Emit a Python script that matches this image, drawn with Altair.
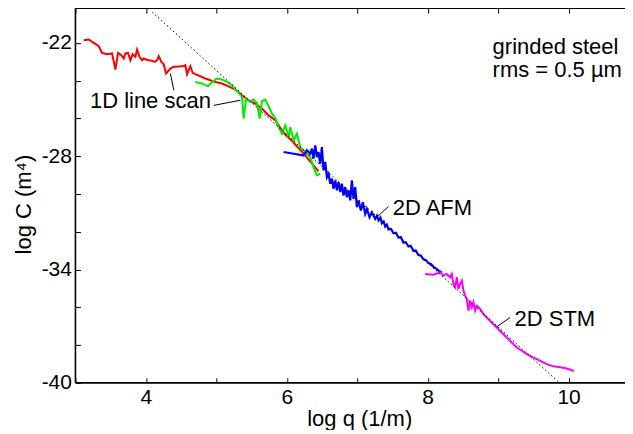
import altair as alt
import pandas as pd

# ---------------- data ----------------
red_x = [3.118, 3.189, 3.26, 3.331, 3.378, 3.449, 3.52, 3.567, 3.605, 3.652, 3.686, 3.709,
         3.747, 3.78, 3.813, 3.851, 3.875, 3.908, 3.946, 3.969, 4.002, 4.04, 4.087, 4.125,
         4.158, 4.182, 4.22, 4.253, 4.286, 4.348, 4.395, 4.442, 4.489, 4.537, 4.56, 4.584,
         4.631, 4.664, 4.702, 4.773, 4.844, 4.915, 4.986, 5.08, 5.175, 5.27, 5.364, 5.459,
         5.553, 5.648, 5.742, 5.837, 5.908, 5.95, 6.05, 6.15, 6.25, 6.35, 6.45]
red_y = [-21.86, -21.82, -22.0, -22.18, -22.53, -22.60, -22.56, -23.41, -22.53, -22.65, -22.83, -22.56,
         -22.53, -22.92, -22.60, -22.74, -22.35, -22.74, -22.92, -22.83, -22.88, -22.92, -22.95, -23.01,
         -22.92, -22.71, -23.01, -23.13, -23.62, -23.36, -23.27, -23.27, -23.24, -23.24, -23.18, -23.66,
         -23.24, -23.59, -23.66, -23.77, -23.89, -23.98, -24.07, -24.15, -24.30, -24.47, -24.77, -25.04,
         -25.21, -25.48, -25.84, -26.10, -26.5, -26.75, -27.1, -27.5, -27.9, -28.35, -28.8]

green_x = [4.702, 4.797, 4.882, 4.939, 5.009, 5.08, 5.151, 5.222, 5.27, 5.317, 5.364, 5.388,
           5.421, 5.482, 5.53, 5.577, 5.615, 5.648, 5.695, 5.742, 5.79, 5.84, 5.884, 5.931,
           5.979, 6.026, 6.05, 6.097, 6.144, 6.191, 6.238, 6.286, 6.333, 6.38, 6.428, 6.475]
green_y = [-24.07, -24.15, -24.30, -24.07, -23.89, -23.94, -24.07, -24.24, -24.47, -24.65, -24.86, -26.01,
           -24.95, -25.13, -25.0, -25.18, -26.01, -25.08, -25.0, -25.36, -25.75, -26.0, -26.46, -26.81,
           -26.37, -26.99, -26.46, -27.16, -26.81, -27.52, -27.69, -27.87, -28.05, -28.58, -29.02, -28.93]

blue_x = [5.955, 6.097, 6.238, 6.286, 6.333, 6.357, 6.38, 6.404, 6.428, 6.451, 6.475, 6.498,
          6.522, 6.546, 6.57, 6.593, 6.617, 6.641, 6.664, 6.688, 6.712, 6.735, 6.759, 6.782,
          6.806, 6.83, 6.853, 6.877, 6.901, 6.924, 6.948, 6.972, 6.995, 7.019, 7.052, 7.08,
          7.113, 7.137, 7.175, 7.208, 7.255, 7.28, 7.303, 7.33, 7.35, 7.375, 7.397, 7.42,
          7.444, 7.48, 7.515, 7.55, 7.586, 7.62, 7.657, 7.69, 7.728, 7.76, 7.799, 7.83,
          7.87, 7.9, 7.941, 7.975, 8.012, 8.05, 8.083, 8.12, 8.154, 8.201]
blue_y = [-27.78, -27.87, -27.96, -27.69, -27.87, -27.60, -28.13, -27.43, -28.05, -27.78, -28.40, -27.52,
          -28.75, -28.31, -29.11, -28.93, -29.46, -29.19, -29.73, -29.28, -29.81, -29.37, -29.90, -29.46,
          -30.08, -29.64, -30.17, -29.81, -30.34, -29.28, -30.26, -29.64, -30.70, -30.34, -30.88, -30.43,
          -31.05, -30.79, -31.23, -30.97, -31.32, -31.15, -31.40, -31.25, -31.55, -31.45, -31.72, -31.62,
          -31.88, -31.85, -32.08, -32.05, -32.32, -32.28, -32.58, -32.55, -32.78, -32.74, -33.02, -32.98,
          -33.24, -33.25, -33.46, -33.50, -33.66, -33.72, -33.86, -33.95, -34.06, -34.15]

magenta_x = [7.965, 8.083, 8.177, 8.224, 8.27, 8.319, 8.343, 8.366, 8.39, 8.414, 8.437, 8.461,
             8.485, 8.508, 8.532, 8.556, 8.579, 8.603, 8.627, 8.65, 8.674, 8.698, 8.745, 8.792,
             8.839, 8.91, 8.981, 9.052, 9.123, 9.194, 9.265, 9.336, 9.407, 9.478, 9.549, 9.62,
             9.69, 9.761, 9.832, 9.903, 9.974, 10.045, 10.078]
magenta_y = [-34.24, -34.27, -34.15, -34.32, -34.24, -34.41, -34.24, -34.77, -34.94, -34.41, -35.03, -34.77,
             -34.59, -35.12, -35.38, -35.56, -36.18, -35.65, -36.0, -35.74, -36.18, -35.92, -36.09, -36.36,
             -36.54, -36.80, -37.07, -37.33, -37.60, -37.86, -38.13, -38.30, -38.48, -38.62, -38.74, -38.87,
             -39.01, -39.10, -39.15, -39.19, -39.24, -39.33, -39.36]

fit_x = [4.09, 9.87]
fit_y = [-20.37, -40.0]

labels_text = ["1D line scan", "2D AFM", "2D STM", "grinded steel", "rms = 0.5 \u00b5m"]
labels_x = [3.206, 7.504, 9.234, 8.922, 8.922]
labels_y = [-25.08, -30.74, -36.61, -22.23, -23.44]

leader_x = [4.348, 4.962, 7.444, 9.17]
leader_y = [-23.62, -25.31, -30.66, -36.54]
leader_x2 = [4.397, 5.34, 7.27, 8.981]
leader_y2 = [-24.51, -25.04, -31.26, -37.03]

x_major = [4, 6, 8, 10]
x_minor = [3, 4, 5, 6, 7, 8, 9, 10]
y_major = [-40, -34, -28, -22]
y_minor = [-40, -38, -36, -34, -32, -30, -28, -26, -24, -22]

# ---------------- chart ----------------
FONT = "Liberation Sans"
W, H = 550, 375
X0, X1 = 3, 3 + W / 70.5
Y0, Y1 = -40, -20.164
xscale = alt.Scale(domain=[X0, X1], nice=False, zero=False)
yscale = alt.Scale(domain=[Y0, Y1], nice=False, zero=False)

red_df = pd.DataFrame({"x": red_x, "y": red_y})
green_df = pd.DataFrame({"x": green_x, "y": green_y})
blue_df = pd.DataFrame({"x": blue_x, "y": blue_y})
mag_df = pd.DataFrame({"x": magenta_x, "y": magenta_y})
fit_df = pd.DataFrame({"x": fit_x, "y": fit_y})
lab_df = pd.DataFrame({"t": labels_text, "x": labels_x, "y": labels_y})
lead_df = pd.DataFrame({"x": leader_x, "y": leader_y, "x2": leader_x2, "y2": leader_y2})
# frame: left, bottom and top edges of the axes box (from the scale domains)
frame_df = pd.DataFrame({
    "x": [X0, X0, X0], "x2": [X0, X1, X1],
    "y": [Y0, Y0, Y1], "y2": [Y1, Y0, Y1],
})

# main axes with labels (bottom and left)
red = alt.Chart(red_df).mark_line(color="#ff0000", strokeWidth=2).encode(
    x=alt.X("x:Q", scale=xscale, axis=alt.Axis(
        orient="bottom", values=x_major, ticks=False, domain=False,
        labelExpr="'' + datum.value", title="log q (1/m)", titlePadding=1,
        titleX=284)),
    y=alt.Y("y:Q", scale=yscale, axis=alt.Axis(
        orient="left", values=y_major, ticks=False, domain=False,
        labelExpr="'' + datum.value", title="log C (m\u2074)", titlePadding=6,
        titleY=196)),
)

# inward ticks on bottom and left edges
green = alt.Chart(green_df).mark_line(color="#00ee00", strokeWidth=2).encode(
    x=alt.X("x:Q", scale=xscale, axis=alt.Axis(
        orient="top", offset=-H, values=x_minor, labels=False, domain=False,
        ticks=True, tickSize=5, title=None)),
    y=alt.Y("y:Q", scale=yscale, axis=alt.Axis(
        orient="right", offset=-W, values=y_minor, labels=False, domain=False,
        ticks=True, tickSize=5, title=None)),
)

# inward ticks on the top edge
blue = alt.Chart(blue_df).mark_line(color="#0000ff", strokeWidth=2.2).encode(
    x=alt.X("x:Q", scale=xscale, axis=alt.Axis(
        orient="bottom", offset=-H, values=x_minor, labels=False, domain=False,
        ticks=True, tickSize=5, title=None)),
    y=alt.Y("y:Q", scale=yscale, axis=None),
)

magenta = alt.Chart(mag_df).mark_line(color="#ff00ff", strokeWidth=2).encode(
    x=alt.X("x:Q", scale=xscale, axis=None),
    y=alt.Y("y:Q", scale=yscale, axis=None),
)

fit = alt.Chart(fit_df).mark_line(color="black", strokeWidth=1, strokeDash=[1.5, 2.5]).encode(
    x=alt.X("x:Q", scale=xscale, axis=None),
    y=alt.Y("y:Q", scale=yscale, axis=None),
)

leaders = alt.Chart(lead_df).mark_rule(color="black", strokeWidth=1).encode(
    x=alt.X("x:Q", scale=xscale, axis=None),
    y=alt.Y("y:Q", scale=yscale, axis=None),
    x2="x2:Q",
    y2="y2:Q",
)

frame = alt.Chart(frame_df).mark_rule(color="black", strokeWidth=1.6, clip=False).encode(
    x=alt.X("x:Q", scale=xscale, axis=None),
    y=alt.Y("y:Q", scale=yscale, axis=None),
    x2="x2:Q",
    y2="y2:Q",
)

texts = alt.Chart(lab_df).mark_text(
    align="left", baseline="middle", font=FONT, fontSize=22, color="black"
).encode(
    x=alt.X("x:Q", scale=xscale, axis=None),
    y=alt.Y("y:Q", scale=yscale, axis=None),
    text="t:N",
)

chart = alt.layer(red, green, blue, magenta, fit, leaders, texts, frame).resolve_axis(
    x="independent", y="independent"
).properties(
    width=W,
    height=H,
    autosize=alt.AutoSizeParams(type="none"),
    padding={"left": 67.5, "top": 0, "right": 0, "bottom": 47},
).configure_view(stroke=None).configure_axis(
    labelFont=FONT, labelFontSize=21, labelColor="black", labelPadding=4,
    titleFont=FONT, titleFontSize=22, titleFontWeight="normal", titleColor="black",
    tickColor="black", tickWidth=1, grid=False,
)

chart.save("out.html", embed_options={"renderer": "svg", "actions": False})
